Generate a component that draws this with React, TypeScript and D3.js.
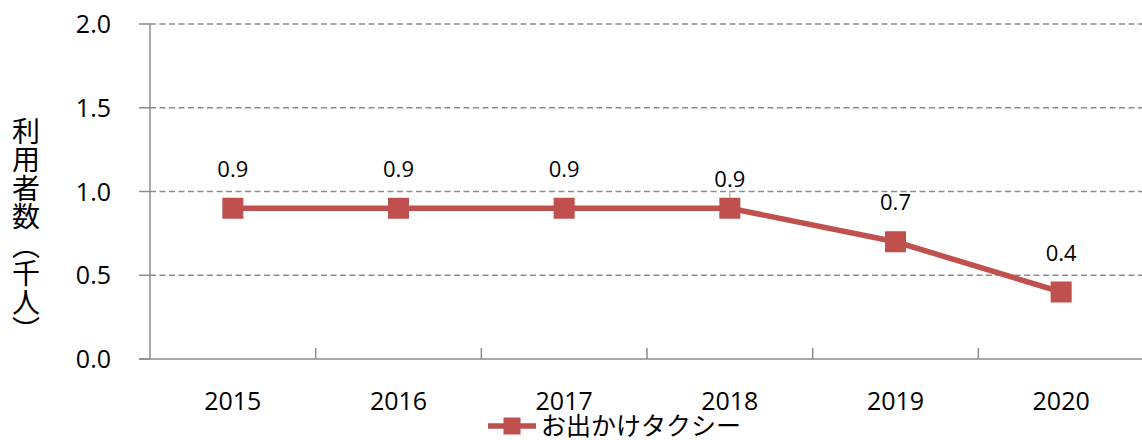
import React, { useEffect, useRef } from 'react';
import * as d3 from 'd3';

// chart data
const years = ['2015', '2016', '2017', '2018', '2019', '2020'];
const users = [0.9, 0.9, 0.9, 0.9, 0.7, 0.4];
const yTicks = [0, 0.5, 1.0, 1.5, 2.0];
const seriesName = 'お出かけタクシー';
const yTitle = '利用者数（千人）';

// label lift above each marker (Excel nudged the 2018 one down)
const labelLift = [39, 39, 39, 29, 40, 39];

export default function App() {
  const svgRef = useRef<SVGSVGElement | null>(null);

  useEffect(() => {
    if (!svgRef.current) return;
    const W = 1142;
    const H = 440;
    const svg = d3.select(svgRef.current);
    svg.selectAll('*').remove();
    svg.attr('width', W).attr('height', H);

    const font = '"Open Sans", "Noto Sans CJK JP", sans-serif';
    const red = '#C0504D';
    const axisGray = '#8c8c8c';

    const x = d3.scaleBand().domain(years).range([150, 1144]);
    const y = d3.scaleLinear().domain([0, 2]).range([359, 24]);
    const cx = (d: string) => (x(d) as number) + x.bandwidth() / 2;

    // gridlines
    svg.append('g')
      .selectAll('line')
      .data(yTicks.filter(t => t > 0))
      .join('line')
      .attr('x1', 150)
      .attr('x2', W)
      .attr('y1', d => y(d))
      .attr('y2', d => y(d))
      .attr('stroke', axisGray)
      .attr('stroke-width', 1.3)
      .attr('stroke-dasharray', '6,3.5');

    // y axis
    svg.append('line')
      .attr('x1', 150).attr('x2', 150)
      .attr('y1', y(2)).attr('y2', y(0))
      .attr('stroke', axisGray).attr('stroke-width', 1.5);
    svg.append('g')
      .selectAll('line')
      .data(yTicks)
      .join('line')
      .attr('x1', 139).attr('x2', 150)
      .attr('y1', d => y(d)).attr('y2', d => y(d))
      .attr('stroke', axisGray).attr('stroke-width', 1.5);
    svg.append('g')
      .selectAll('text')
      .data(yTicks)
      .join('text')
      .attr('x', 111)
      .attr('y', d => y(d))
      .attr('dy', '0.36em')
      .attr('text-anchor', 'end')
      .attr('font-family', font)
      .attr('font-size', 25)
      .attr('fill', '#000')
      .text(d => d3.format('.1f')(d));

    // x axis
    svg.append('line')
      .attr('x1', 139).attr('x2', W)
      .attr('y1', y(0)).attr('y2', y(0))
      .attr('stroke', axisGray).attr('stroke-width', 1.5);
    svg.append('g')
      .selectAll('line')
      .data(years.slice(1))
      .join('line')
      .attr('x1', d => x(d) as number).attr('x2', d => x(d) as number)
      .attr('y1', y(0) - 11).attr('y2', y(0))
      .attr('stroke', axisGray).attr('stroke-width', 1.5);
    svg.append('g')
      .selectAll('text')
      .data(years)
      .join('text')
      .attr('x', d => cx(d))
      .attr('y', 401)
      .attr('dy', '0.36em')
      .attr('text-anchor', 'middle')
      .attr('font-family', font)
      .attr('font-size', 25)
      .attr('fill', '#000')
      .text(d => d);

    // y title, vertical
    svg.append('text')
      .attr('x', 26)
      .attr('y', 231)
      .attr('text-anchor', 'middle')
      .attr('font-family', '"Noto Sans CJK JP", sans-serif')
      .attr('font-size', 28)
      .attr('fill', '#000')
      .style('writing-mode', 'vertical-rl')
      .style('letter-spacing', '0.5px')
      .text(yTitle);

    // leader line for the nudged label
    years.forEach((d, i) => {
      if (labelLift[i] < 35) {
        svg.append('line')
          .attr('x1', cx(d)).attr('x2', cx(d))
          .attr('y1', y(users[i]) - labelLift[i] + 12)
          .attr('y2', y(users[i]) - 10)
          .attr('stroke', '#a0a0a0').attr('stroke-width', 1);
      }
    });

    // series line
    const line = d3.line<number>()
      .x((_, i) => cx(years[i]))
      .y(d => y(d));
    svg.append('path')
      .datum(users)
      .attr('fill', 'none')
      .attr('stroke', red)
      .attr('stroke-width', 5.5)
      .attr('d', line);

    const m = 21;
    svg.append('g')
      .selectAll('rect')
      .data(users)
      .join('rect')
      .attr('x', (_, i) => cx(years[i]) - m / 2)
      .attr('y', d => y(d) - m / 2)
      .attr('width', m)
      .attr('height', m)
      .attr('fill', red);

    // data labels
    svg.append('g')
      .selectAll('text')
      .data(users)
      .join('text')
      .attr('x', (_, i) => cx(years[i]))
      .attr('y', (d, i) => y(d) - labelLift[i])
      .attr('dy', '0.36em')
      .attr('text-anchor', 'middle')
      .attr('font-family', font)
      .attr('font-size', 22)
      .attr('fill', '#000')
      .text(d => d3.format('.1f')(d));

    // legend
    const lg = svg.append('g').attr('transform', 'translate(488,426)');
    lg.append('line')
      .attr('x1', 0).attr('x2', 48)
      .attr('y1', 0).attr('y2', 0)
      .attr('stroke', red).attr('stroke-width', 5.5);
    lg.append('rect')
      .attr('x', 24 - 8.5).attr('y', -8.5)
      .attr('width', 17).attr('height', 17)
      .attr('fill', red);
    lg.append('text')
      .attr('x', 53)
      .attr('y', 0)
      .attr('dy', '0.36em')
      .attr('font-family', '"Noto Sans CJK JP", sans-serif')
      .attr('font-size', 25)
      .attr('fill', '#000')
      .text(seriesName);
  }, []);

  return (
    <svg
      ref={svgRef}
      style={{ position: 'absolute', left: 0, top: 0, display: 'block', background: '#fff' }}
    />
  );
}
